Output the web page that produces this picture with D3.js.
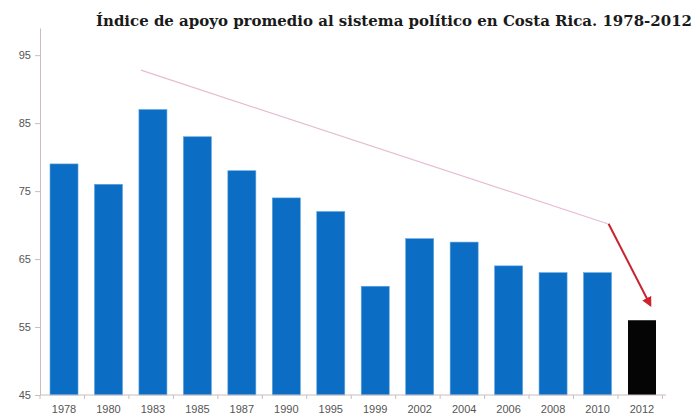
<!DOCTYPE html>
<meta charset="utf-8">
<style>
  body { margin: 0; background: #fff; }
  .axis text { font-family: "Liberation Sans", Arial, sans-serif; font-size: 11px; fill: #555; }
  .axis path, .axis line { stroke: #cbbcbc; }
</style>
<body>
<script src="https://cdnjs.cloudflare.com/ajax/libs/d3/7.8.5/d3.min.js"></script>
<script>

var years = ["1978", "1980", "1983", "1985", "1987", "1990", "1995", "1999", "2002", "2004", "2006", "2008", "2010", "2012"];
var support = [79, 76, 87, 83, 78, 74, 72, 61, 68, 67.5, 64, 63, 63, 56];
var yTicks = [45, 55, 65, 75, 85, 95];

// annotation: faint trend line and red arrow to the last year
var trendLine = [["1983", 92.8], ["2010", 70.2]];
var arrowLine = [["2010", 70.2], ["2012", 58.2]];

var width = 696,
    height = 419,
    margin = {top: 28, right: 30, bottom: 24, left: 40};

var svg = d3.select("body").append("svg")
    .attr("width", width)
    .attr("height", height);

var x = d3.scaleBand()
    .domain(years)
    .range([margin.left, width - margin.right])
    .paddingInner(0.37)
    .paddingOuter(0.225);

var y = d3.scaleLinear()
    .domain([45, 99])
    .range([height - margin.bottom, margin.top]);

// title
svg.append("text")
    .attr("x", 96)
    .attr("y", 26)
    .attr("textLength", 596)
    .attr("lengthAdjust", "spacingAndGlyphs")
    .style("font-family", "'DejaVu Serif', 'Liberation Serif', serif")
    .style("font-weight", "bold")
    .style("font-size", "14px")
    .style("fill", "#1a1a1a")
    .text("Índice de apoyo promedio al sistema político en Costa Rica. 1978-2012");

// bars
svg.selectAll("rect.bar")
    .data(years)
  .enter().append("rect")
    .attr("class", "bar")
    .attr("x", d => x(d))
    .attr("width", x.bandwidth())
    .attr("y", (d, i) => y(support[i]))
    .attr("height", (d, i) => y(45) - y(support[i]))
    .style("fill", (d, i) => i === years.length - 1 ? "#050505" : "#0b6dc3")
    .style("stroke", (d, i) => i === years.length - 1 ? "none" : "#5ea6e0")
    .style("stroke-width", 0.6);

// y axis
var yAxis = svg.append("g")
    .attr("class", "axis")
    .attr("transform", "translate(" + margin.left + ",0)")
    .call(d3.axisLeft(y).tickValues(yTicks).tickSize(5).tickSizeOuter(0));
yAxis.selectAll("text").attr("x", -9);

// x axis with ticks at the band edges
var xAxis = svg.append("g")
    .attr("class", "axis")
    .attr("transform", "translate(0," + y(45) + ")");
xAxis.append("line")
    .attr("x1", margin.left)
    .attr("x2", width - margin.right)
    .style("stroke", "#cbbcbc");
xAxis.selectAll("line.tk")
    .data(years.concat(["end"]))
  .enter().append("line")
    .attr("class", "tk")
    .attr("x1", (d, i) => margin.left + i * x.step())
    .attr("x2", (d, i) => margin.left + i * x.step())
    .attr("y1", 0)
    .attr("y2", 4)
    .style("stroke", "#cbbcbc");
xAxis.selectAll("text")
    .data(years)
  .enter().append("text")
    .attr("x", d => x(d) + x.bandwidth() / 2)
    .attr("y", 18)
    .attr("text-anchor", "middle")
    .text(d => d);

// annotations
svg.append("defs").append("marker")
    .attr("id", "head")
    .attr("viewBox", "0 0 10 10")
    .attr("refX", 8)
    .attr("refY", 5)
    .attr("markerWidth", 5)
    .attr("markerHeight", 5)
    .attr("orient", "auto")
  .append("path")
    .attr("d", "M0,0L10,5L0,10z")
    .style("fill", "#d0202c");

svg.append("line")
    .attr("x1", x(trendLine[0][0]) + 2)
    .attr("y1", y(trendLine[0][1]))
    .attr("x2", x(trendLine[1][0]) + x.bandwidth() - 4)
    .attr("y2", y(trendLine[1][1]))
    .style("stroke", "#e6bcd2")
    .style("stroke-width", 1.2);

svg.append("line")
    .attr("x1", x(arrowLine[0][0]) + x.bandwidth() - 3)
    .attr("y1", y(arrowLine[0][1]))
    .attr("x2", x(arrowLine[1][0]) + x.bandwidth() * 0.8)
    .attr("y2", y(arrowLine[1][1]))
    .style("stroke", "#c8232e")
    .style("stroke-width", 2)
    .attr("marker-end", "url(#head)");

</script>
</body>
